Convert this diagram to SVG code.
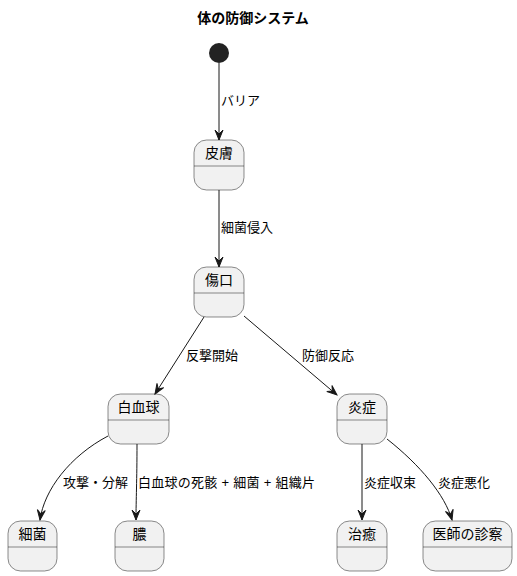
<svg xmlns="http://www.w3.org/2000/svg" width="517" height="576" viewBox="0 0 517 576">
<style>
.node rect{fill:#F1F1F1;stroke:#181818;stroke-width:0.5}
.node line{stroke:#181818;stroke-width:0.5}
.name{font-family:"Liberation Sans","Noto Sans CJK JP",sans-serif;font-size:14px;fill:#000;text-anchor:middle}
.lbl{font-family:"Liberation Sans","Noto Sans CJK JP",sans-serif;font-size:13px;fill:#000}
.title{font-family:"Liberation Sans","Noto Sans CJK JP",sans-serif;font-size:14px;font-weight:bold;fill:#000;text-anchor:middle}
#connectors path{fill:none;stroke:#181818;stroke-width:1;marker-end:url(#arr)}
</style>
<defs>
<marker id="arr" markerUnits="userSpaceOnUse" viewBox="-11 -5 12 10" refX="0" refY="0" markerWidth="12" markerHeight="10" orient="auto">
<path d="M0,0 L-10,-4 L-6,0 L-10,4 Z" fill="#181818" stroke="#181818" stroke-width="1"/>
</marker>
</defs>
<rect width="517" height="576" fill="#FFFFFF"/>
<text class="title" x="253" y="23">体の防御システム</text>
<g id="start"><circle cx="219" cy="53" r="10" fill="#222222"/></g>
<g id="skin" class="node"><rect x="194" y="140" width="50" height="50" rx="12.5"/><line x1="194" y1="166" x2="244" y2="166"/><text class="name" x="219" y="158">皮膚</text></g>
<g id="wound" class="node"><rect x="194" y="267" width="50" height="50" rx="12.5"/><line x1="194" y1="293" x2="244" y2="293"/><text class="name" x="219" y="285">傷口</text></g>
<g id="wbc" class="node"><rect x="108" y="394" width="61" height="50" rx="12.5"/><line x1="108" y1="420" x2="169" y2="420"/><text class="name" x="138.5" y="412">白血球</text></g>
<g id="inflam" class="node"><rect x="337" y="394" width="50" height="50" rx="12.5"/><line x1="337" y1="420" x2="387" y2="420"/><text class="name" x="362" y="412">炎症</text></g>
<g id="bacteria" class="node"><rect x="8" y="521" width="49" height="50" rx="12.5"/><line x1="8" y1="547" x2="57" y2="547"/><text class="name" x="32.5" y="539">細菌</text></g>
<g id="pus" class="node"><rect x="115" y="521" width="49" height="50" rx="12.5"/><line x1="115" y1="547" x2="164" y2="547"/><text class="name" x="139.5" y="539">膿</text></g>
<g id="heal" class="node"><rect x="337" y="521" width="50" height="50" rx="12.5"/><line x1="337" y1="547" x2="387" y2="547"/><text class="name" x="362" y="539">治癒</text></g>
<g id="doctor" class="node"><rect x="423" y="521" width="89" height="50" rx="12.5"/><line x1="423" y1="547" x2="512" y2="547"/><text class="name" x="467.5" y="539">医師の診察</text></g>
<g id="connectors">
<path d="M219,63 L219,140"/>
<path d="M219,190 L219,267"/>
<path d="M204,317 L155,394"/>
<path d="M244,316 L337,395"/>
<path d="M108,436 C70,456 44,490 40,520"/>
<path d="M137,444 C137,480 136,500 136,520"/>
<path d="M362,444 L362,520"/>
<path d="M387,439 C420,465 445,495 452,520"/>
</g>
<g id="labels">
<text class="lbl" x="221" y="105">バリア</text>
<text class="lbl" x="221" y="232">細菌侵入</text>
<text class="lbl" x="186" y="360">反撃開始</text>
<text class="lbl" x="302" y="360">防御反応</text>
<text class="lbl" x="63" y="487">攻撃・分解</text>
<text class="lbl" x="138" y="487" textLength="177" lengthAdjust="spacing">白血球の死骸 + 細菌 + 組織片</text>
<text class="lbl" x="364" y="487">炎症収束</text>
<text class="lbl" x="438" y="487">炎症悪化</text>
</g>
</svg>
